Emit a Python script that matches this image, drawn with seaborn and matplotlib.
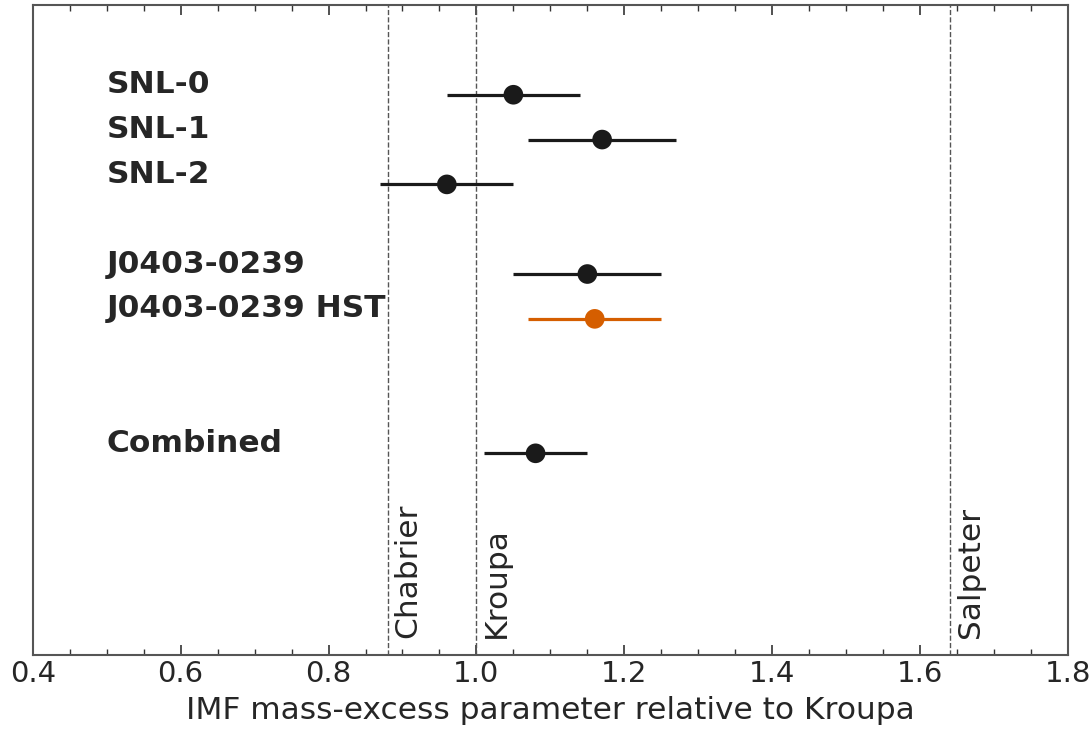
import matplotlib
matplotlib.use("Agg")
import matplotlib.pyplot as plt
import seaborn as sns
import pandas as pd
from matplotlib.ticker import MultipleLocator

# Data
labels = ["SNL-0", "SNL-1", "SNL-2", "J0403-0239", "J0403-0239 HST", "Combined"]
ypos = [0, 1, 2, 4, 5, 8]
values = [1.05, 1.17, 0.96, 1.15, 1.16, 1.08]
err_lo = [0.09, 0.10, 0.09, 0.10, 0.09, 0.07]
err_hi = [0.09, 0.10, 0.09, 0.10, 0.09, 0.07]
groups = ["lens", "lens", "lens", "lens", "hst", "lens"]

ref_names = ["Chabrier", "Kroupa", "Salpeter"]
ref_values = [0.88, 1.0, 1.64]

df = pd.DataFrame({"label": labels, "y": ypos, "x": values,
                   "lo": err_lo, "hi": err_hi, "group": groups})

sns.set_theme(style="ticks")
plt.rcParams['font.family'] = ['DejaVu Sans']

palette = {"lens": "#1a1a1a", "hst": "#d55e00"}

fig = plt.figure(figsize=(10.92, 7.29), dpi=100)
ax = fig.add_axes([0.030, 0.1015, 0.948, 0.8915])

for _, r in df.iterrows():
    ax.hlines(r["y"], r["x"] - r["lo"], r["x"] + r["hi"],
              color=palette[r["group"]], lw=2.3, zorder=2)
sns.scatterplot(data=df, x="x", y="y", hue="group", palette=palette,
                s=200, edgecolor="none", legend=False, ax=ax, zorder=3)

for _, r in df.iterrows():
    ax.text(0.5, r["y"] - 0.22, r["label"], fontsize=22.5, fontweight="bold",
            color="#262626", ha="left", va="center")

for name, v in zip(ref_names, ref_values):
    ax.axvline(v, color="#555555", ls="--", lw=1.0, zorder=1)
    ax.text(v + 0.008, 12.13, name, rotation=90, fontsize=22.5,
            color="#262626", ha="left", va="bottom")

ax.set_xlim(0.4, 1.8)
ax.set_ylim(12.5, -2.0)
ax.set_yticks([])
ax.set_ylabel("")
ax.xaxis.set_major_locator(MultipleLocator(0.2))
ax.xaxis.set_minor_locator(MultipleLocator(0.05))
ax.tick_params(axis="x", which="both", direction="in", top=True, bottom=True,
               labelsize=21, colors="#262626")
ax.tick_params(axis="x", which="major", length=7, width=1.2, color="#333333")
ax.tick_params(axis="x", which="minor", length=4, width=1.0, color="#333333")
for sp in ax.spines.values():
    sp.set_visible(True)
    sp.set_color("#555555")
    sp.set_linewidth(1.5)
ax.set_xlabel("IMF mass-excess parameter relative to Kroupa", fontsize=22.5,
              color="#262626", labelpad=6)

fig.savefig("out.png", dpi=100)
